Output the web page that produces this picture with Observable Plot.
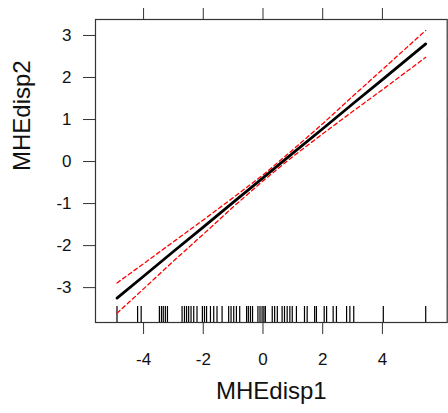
<!DOCTYPE html>
<html>
<head>
<meta charset="utf-8">
<script src="https://cdn.jsdelivr.net/npm/d3@7"></script>
<script src="https://cdn.jsdelivr.net/npm/@observablehq/plot@0.6"></script>
<style>
  html, body { margin: 0; padding: 0; background: white; overflow: hidden; }
  svg { overflow: hidden; }
</style>
</head>
<body>
<div id="chart"></div>
<script>
const xTicks = [-4, -2, 0, 2, 4];
const yTicks = [-3, -2, -1, 0, 1, 2, 3];

const fitX   = [-4.89, -4, -3, -2, -1, 0, 1, 2, 3, 4, 5.45];
const fitY   = [-3.25, -2.73, -2.14, -1.56, -0.97, -0.39, 0.20, 0.78, 1.37, 1.95, 2.80];
const lowerY = [-3.61, -3.03, -2.37, -1.73, -1.08, -0.46, 0.12, 0.66, 1.19, 1.71, 2.48];
const upperY = [-2.89, -2.43, -1.91, -1.39, -0.86, -0.32, 0.28, 0.90, 1.55, 2.19, 3.12];

const rugX = [-4.89, -4.20, -4.08, -3.47, -3.40, -3.34, -3.27, -3.20,
  -2.71, -2.63, -2.56, -2.49, -2.41, -2.32, -2.21, -2.03, -1.96, -1.89,
  -1.76, -1.65, -1.54, -1.37, -1.15, -1.07, -0.98, -0.89, -0.78,
  -0.55, -0.49, -0.42, -0.35, -0.17, -0.10, -0.03, 0.03, 0.08,
  0.31, 0.39, 0.48, 0.64, 0.72, 0.81, 0.90, 0.98, 1.12, 1.39, 1.48,
  1.73, 1.79, 2.05, 2.13, 2.35, 2.46, 2.80, 2.91, 3.04, 4.03, 5.45];

const xLabel = "MHEdisp1";
const yLabel = "MHEdisp2";

const fit = fitX.map((x, i) => ({x, fit: fitY[i], lo: lowerY[i], hi: upperY[i]}));

const axisColor = "#333";
const hyphen = d => String(d);

const chart = Plot.plot({
  width: 448,
  height: 413,
  marginLeft: 95,
  marginRight: 1.3,
  marginTop: 19,
  marginBottom: 91,
  x: {domain: [-5.61, 6.17]},
  y: {domain: [-3.83, 3.38]},
  style: {fontFamily: "'Liberation Sans', Arial, sans-serif", fontSize: "17px", color: "#111", background: "white"},
  marks: [
    Plot.ruleX(rugX, {x: d => d, insetTop: 287, stroke: "black", strokeWidth: 1.2}),
    Plot.line(fit, {x: "x", y: "lo", stroke: "red", strokeWidth: 1.3, strokeDasharray: "4,3"}),
    Plot.line(fit, {x: "x", y: "hi", stroke: "red", strokeWidth: 1.3, strokeDasharray: "4,3"}),
    Plot.line(fit, {x: "x", y: "fit", stroke: "black", strokeWidth: 2.8}),
    Plot.frame({stroke: axisColor, strokeWidth: 1.2}),
    Plot.axisX(xTicks, {anchor: "bottom", tickSize: 12, tickPadding: 18, stroke: axisColor, label: null, fontSize: 17, tickFormat: hyphen}),
    Plot.axisX(xTicks, {anchor: "top", tickSize: 12, stroke: axisColor, label: null, tickFormat: () => ""}),
    Plot.axisY(yTicks, {anchor: "left", tickSize: 12, tickPadding: 12, stroke: axisColor, label: null, fontSize: 17, tickFormat: hyphen}),
    Plot.axisY(yTicks, {anchor: "right", tickSize: 12, stroke: axisColor, label: null, tickFormat: () => ""}),
    Plot.text([xLabel], {frameAnchor: "bottom", dy: 76, fontSize: 24, fill: "#111"}),
    Plot.text([yLabel], {frameAnchor: "left", dx: -73, rotate: -90, fontSize: 24, fill: "#111"})
  ]
});

document.getElementById("chart").appendChild(chart);
</script>
</body>
</html>
